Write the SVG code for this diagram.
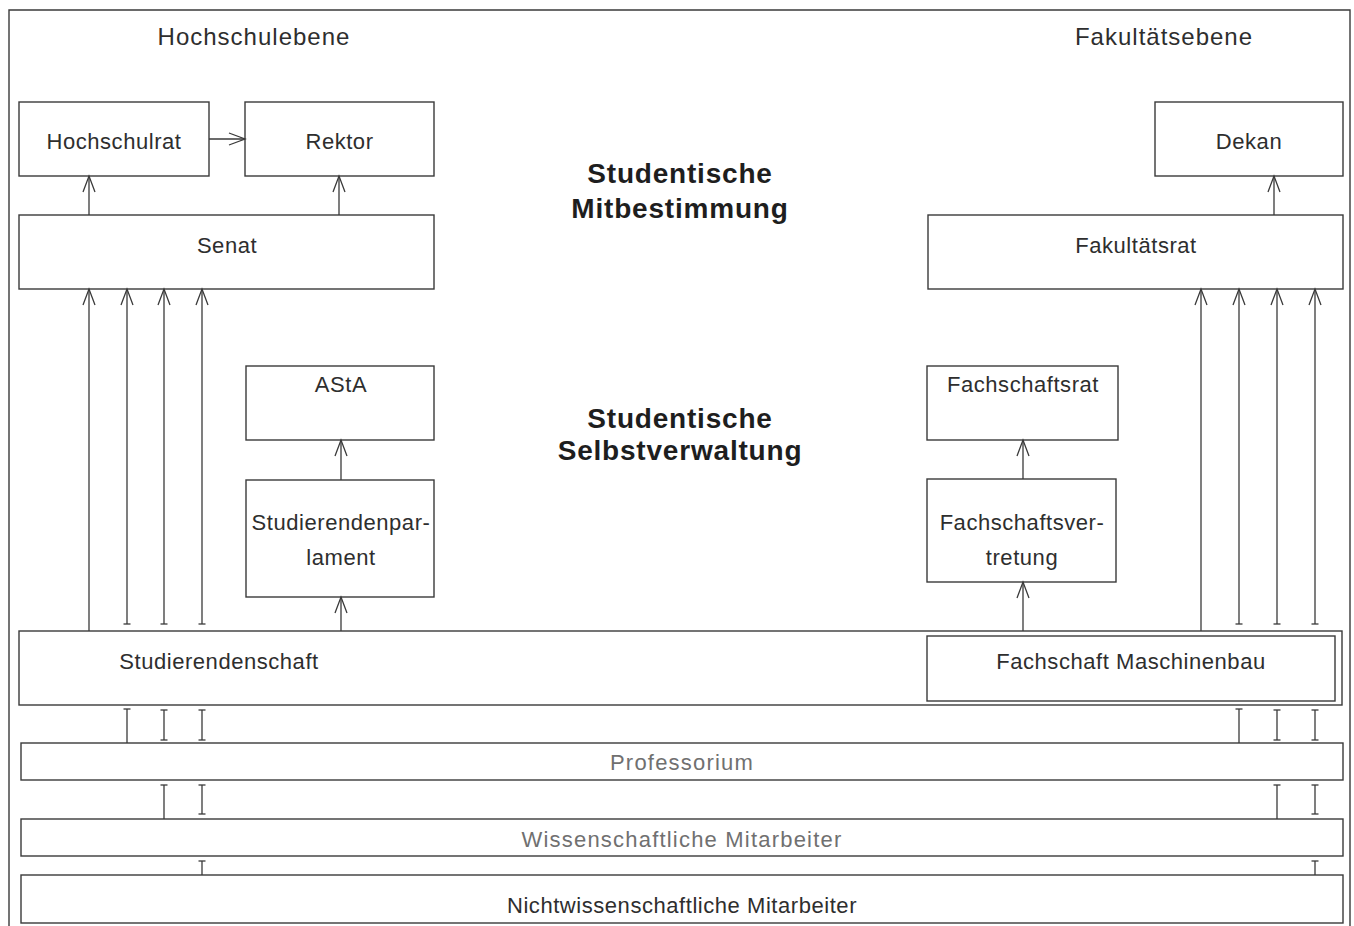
<svg xmlns="http://www.w3.org/2000/svg" width="1354" height="926" viewBox="0 0 1354 926">
<style>
.box{fill:#fff;stroke:#3a3a3a;stroke-width:1.4}
.t{font-family:"Liberation Sans",Arial,Helvetica,sans-serif;font-size:22px;fill:#2e2e2e;text-anchor:middle;letter-spacing:0.55px}
.h{font-family:"Liberation Sans",Arial,Helvetica,sans-serif;font-size:24px;fill:#2e2e2e;text-anchor:middle;letter-spacing:1px}
.b{font-family:"Liberation Sans",Arial,Helvetica,sans-serif;font-size:28px;font-weight:bold;fill:#1e1e1e;text-anchor:middle;letter-spacing:0.8px}
.lt{font-family:"Liberation Sans",Arial,Helvetica,sans-serif;font-size:22px;fill:#707070;text-anchor:middle;letter-spacing:1.2px}
.c line{stroke:#3a3a3a;stroke-width:1.3;fill:none}
.ar{marker-end:url(#arr)}
.te{marker-end:url(#tee)}
.ts{marker-start:url(#tee)}
</style>
<defs>
<marker id="arr" markerUnits="userSpaceOnUse" orient="auto" refX="0" refY="0" markerWidth="20" markerHeight="16" viewBox="-18 -8 20 16" overflow="visible">
<path d="M-16,-6 L0,0 L-16,6" fill="none" stroke="#3a3a3a" stroke-width="1.3"/>
</marker>
<marker id="tee" markerUnits="userSpaceOnUse" orient="auto" refX="0" refY="0" markerWidth="8" markerHeight="8" viewBox="-4 -4 8 8" overflow="visible">
<path d="M0,-3.5 L0,3.5" fill="none" stroke="#3a3a3a" stroke-width="1.3"/>
</marker>
</defs>
<rect width="1354" height="926" fill="#fff"/>
<path d="M9,926 V10 H1350 V926" fill="none" stroke="#3a3a3a" stroke-width="1.4"/>
<text class="h" x="254" y="45">Hochschulebene</text>
<text class="h" x="1164" y="45">Fakultätsebene</text>
<g id="title1"><text class="b" x="680" y="183">Studentische</text><text class="b" x="680" y="218">Mitbestimmung</text></g>
<g id="title2"><text class="b" x="680" y="428">Studentische</text><text class="b" x="680" y="460">Selbstverwaltung</text></g>

<g id="hochschulrat"><rect class="box" x="19" y="102" width="190" height="74"/><text class="t" x="114" y="149">Hochschulrat</text></g>
<g id="rektor"><rect class="box" x="245" y="102" width="189" height="74"/><text class="t" x="339.5" y="149">Rektor</text></g>
<g id="senat"><rect class="box" x="19" y="215" width="415" height="74"/><text class="t" x="227" y="253">Senat</text></g>
<g id="dekan"><rect class="box" x="1155" y="102" width="188" height="74"/><text class="t" x="1249" y="149">Dekan</text></g>
<g id="fakultaetsrat"><rect class="box" x="928" y="215" width="415" height="74"/><text class="t" x="1136" y="253">Fakultätsrat</text></g>
<g id="asta"><rect class="box" x="246" y="366" width="188" height="74"/><text class="t" x="341" y="392">AStA</text></g>
<g id="stupa"><rect class="box" x="246" y="480" width="188" height="117"/><text class="t" x="341" y="530">Studierendenpar-</text><text class="t" x="341" y="565">lament</text></g>
<g id="fachschaftsrat"><rect class="box" x="927" y="366" width="191" height="74"/><text class="t" x="1023" y="392">Fachschaftsrat</text></g>
<g id="fachschaftsvertretung"><rect class="box" x="927" y="479" width="189" height="103"/><text class="t" x="1022" y="530">Fachschaftsver-</text><text class="t" x="1022" y="565">tretung</text></g>
<g id="studierendenschaft"><rect class="box" x="19" y="631" width="1323" height="74"/><text class="t" x="219" y="669">Studierendenschaft</text></g>
<g id="fachschaft"><rect class="box" x="927" y="636" width="408" height="65"/><text class="t" x="1131" y="669">Fachschaft Maschinenbau</text></g>
<g id="professorium"><rect class="box" x="21" y="743" width="1322" height="37"/><text class="lt" x="682" y="770">Professorium</text></g>
<g id="wiss"><rect class="box" x="21" y="819" width="1322" height="37"/><text class="lt" x="682" y="847">Wissenschaftliche Mitarbeiter</text></g>
<g id="nichtwiss"><rect class="box" x="21" y="875" width="1322" height="48"/><text class="t" x="682" y="913">Nichtwissenschaftliche Mitarbeiter</text></g>

<g id="connectors" class="c">
<line class="ar" x1="209" y1="139" x2="245" y2="139"/>
<line class="ar" x1="89" y1="215" x2="89" y2="176"/>
<line class="ar" x1="339" y1="215" x2="339" y2="176"/>
<line class="ar" x1="1274" y1="215" x2="1274" y2="176"/>
<line class="ar" x1="341" y1="480" x2="341" y2="440"/>
<line class="ar" x1="341" y1="631" x2="341" y2="597"/>
<line class="ar" x1="1023" y1="479" x2="1023" y2="440"/>
<line class="ar" x1="1023" y1="631" x2="1023" y2="582"/>

<line class="ar" x1="89" y1="631" x2="89" y2="289"/>
<line class="ar ts" x1="127" y1="624" x2="127" y2="289"/>
<line class="ar ts" x1="164" y1="624" x2="164" y2="289"/>
<line class="ar ts" x1="202" y1="624" x2="202" y2="289"/>
<line class="te" x1="127" y1="743" x2="127" y2="709"/>
<line class="ts te" x1="164" y1="740" x2="164" y2="710"/>
<line class="ts te" x1="202" y1="740" x2="202" y2="710"/>
<line class="te" x1="164" y1="819" x2="164" y2="785"/>
<line class="ts te" x1="202" y1="814" x2="202" y2="785"/>
<line class="te" x1="202" y1="875" x2="202" y2="861"/>

<line class="ar" x1="1201" y1="631" x2="1201" y2="289"/>
<line class="ar ts" x1="1239" y1="624" x2="1239" y2="289"/>
<line class="ar ts" x1="1277" y1="624" x2="1277" y2="289"/>
<line class="ar ts" x1="1315" y1="624" x2="1315" y2="289"/>
<line class="te" x1="1239" y1="743" x2="1239" y2="709"/>
<line class="ts te" x1="1277" y1="740" x2="1277" y2="710"/>
<line class="ts te" x1="1315" y1="740" x2="1315" y2="710"/>
<line class="te" x1="1277" y1="819" x2="1277" y2="785"/>
<line class="ts te" x1="1315" y1="814" x2="1315" y2="785"/>
<line class="te" x1="1315" y1="875" x2="1315" y2="861"/>
</g>
</svg>
